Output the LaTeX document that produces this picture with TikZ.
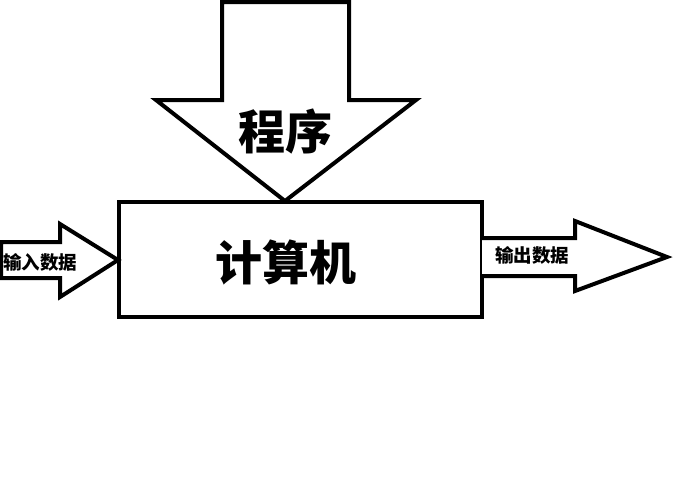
\documentclass[tikz,border=0pt]{standalone}
\usepackage{fontspec}
\newfontfamily\cjk{Noto Sans CJK SC}
\usetikzlibrary{shapes,arrows}

\begin{document}
\begin{tikzpicture}[x=1pt, y=-1pt, line width=4pt]
\tikzstyle{blockbox}=[rectangle, draw=black, minimum width=363pt, minimum height=115pt, inner sep=0pt]
\tikzstyle{blockarrow}=[draw=black, fill=white, line join=miter]
\tikzstyle{bigtext}=[font=\cjk\bfseries\fontsize{47}{47}\selectfont, inner sep=0pt]
\tikzstyle{smalltext}=[font=\cjk\bfseries\fontsize{18.5}{18.5}\selectfont, inner sep=0pt]

\useasboundingbox (0,0) rectangle (674,480);

\node[blockbox] (computer) at (300.5,259.5) {};
\node[bigtext] (computerlabel) at (286,262) {计算机};

% program arrow
\draw[blockarrow] (222,2) -- (349,2) -- (349,100) -- (416,100) -- (285,201)
  -- (156,100) -- (222,100) -- cycle;
\node[bigtext] (programlabel) at (285,132) {程序};

% input arrow
\draw[blockarrow] (1,242) -- (60,242) -- (60,224) -- (118,260) -- (60,297)
  -- (60,278) -- (1,278) -- cycle;
\node[smalltext] (inputlabel) at (40,262) {输入数据};

% output arrow
\draw[blockarrow] (482,238) -- (575,238) -- (575,221) -- (667,257) -- (575,291)
  -- (575,276) -- (482,276);
\node[smalltext] (outputlabel) at (532,255) {输出数据};
\end{tikzpicture}
\end{document}
